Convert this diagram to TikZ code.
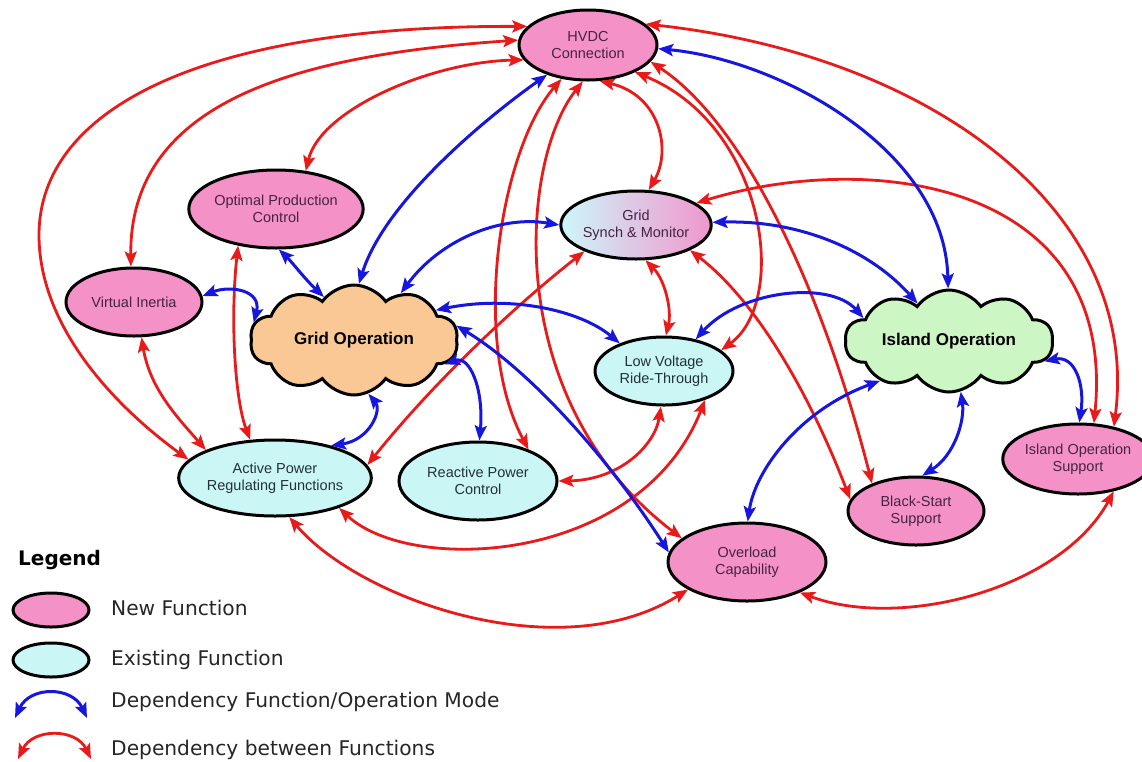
\documentclass[tikz,border=0pt]{standalone}
\usepackage{fontspec}
\setmainfont{Liberation Sans}
\newfontfamily\legfont{DejaVu Sans}
\usetikzlibrary{shapes.geometric,shapes.symbols,arrows.meta}
\definecolor{pinkc}{RGB}{244,146,200}
\definecolor{cyanc}{RGB}{202,246,246}
\definecolor{peachc}{RGB}{250,200,148}
\definecolor{greenc}{RGB}{204,246,196}
\definecolor{redc}{RGB}{232,26,26}
\definecolor{bluec}{RGB}{22,22,222}
\definecolor{gsmleft}{RGB}{205,246,250}
\definecolor{gsmright}{RGB}{240,150,205}
\definecolor{pinktext}{RGB}{70,35,65}
\definecolor{cyantext}{RGB}{35,50,55}
\begin{document}
\begin{tikzpicture}[x=1pt,y=-1pt,
  fn/.style={ellipse, draw=black, line width=3pt, inner sep=0pt, align=center, font=\fontsize{14.5}{17}\selectfont},
  newfn/.style={fn, fill=pinkc, text=pinktext},
  oldfn/.style={fn, fill=cyanc, text=cyantext},
  opmode/.style={cloud, cloud puffs=10, cloud puff arc=110, cloud ignores aspect, draw=black, line width=3pt, inner sep=0pt, font=\fontsize{17}{20}\selectfont\bfseries},
  rdep/.style={draw=redc, line width=2.8pt, >={Stealth[length=15pt,width=12pt,inset=3pt]}, <->},
  bdep/.style={draw=bluec, line width=3pt, >={Stealth[length=15pt,width=12pt,inset=3pt]}, <->},
  legtext/.style={anchor=base west, font=\legfont\fontsize{20.2}{24}\selectfont, text=black!85, inner sep=0pt}
]
\path[use as bounding box] (0,0) rectangle (1142,761);

% nodes
\node[newfn, minimum width=138pt, minimum height=70pt] (hvdc) at (588,45) {HVDC\\Connection};
\node[newfn, minimum width=158pt, minimum height=78pt] (opc) at (276,209) {Optimal Production\\Control};
\node[newfn, minimum width=136pt, minimum height=68pt] (vi) at (134,302) {Virtual Inertia};
\node[fn, left color=gsmleft, right color=gsmright, text=pinktext, minimum width=138pt, minimum height=68pt] (gsm) at (636,225) {Grid\\Synch \& Monitor};
\node[opmode, fill=peachc, minimum width=208pt, minimum height=110pt] (gop) at (354,340) {Grid Operation};
\node[oldfn, minimum width=138pt, minimum height=68pt] (lvrt) at (664,371) {Low Voltage\\Ride-Through};
\node[opmode, fill=greenc, minimum width=208pt, minimum height=102pt] (iop) at (949,341) {Island Operation};
\node[oldfn, minimum width=156pt, minimum height=76pt] (aprf) at (275,478) {Active Power\\Regulating Functions};
\node[oldfn, minimum width=158pt, minimum height=78pt] (rpc) at (478,481) {Reactive Power\\Control};
\node[newfn, minimum width=158pt, minimum height=78pt] (oc) at (747,562) {Overload\\Capability};
\node[newfn, minimum width=136pt, minimum height=68pt] (bss) at (916,511) {Black-Start\\Support};
\node[newfn, minimum width=136pt, minimum height=70pt] (ios) at (1078,459) {Island Operation\\Support};

% red dependencies between functions
\coordinate (r1mid) at (39,235);
\draw[rdep] (hvdc.163) .. controls (200,25) and (39,110) .. (r1mid) .. controls (39,330) and (120,410) .. (aprf.168);
\draw[rdep] (hvdc.176) .. controls (300,55) and (129,100) .. (vi.95);
\draw[rdep] (hvdc.193) .. controls (430,62) and (320,110) .. (opc.52);
\draw[rdep] (vi.282) .. controls (150,390) and (180,420) .. (aprf.158);
\draw[rdep] (opc.224) .. controls (230,320) and (235,400) .. (aprf.123);
\draw[rdep] (gsm.207) .. controls (500,318) and (425,393) .. (aprf.8);
\draw[rdep] (aprf.-25) .. controls (410,575) and (640,565) .. (lvrt.-35);
\draw[rdep] (aprf.290) .. controls (360,600) and (560,670) .. (oc.205);
\draw[rdep] (hvdc.232) .. controls (500,150) and (470,340) .. (rpc.32);
\draw[rdep] (hvdc.262) .. controls (520,160) and (500,400) .. (oc.160);
\draw[rdep] (hvdc.288) .. controls (660,95) and (672,150) .. (gsm.70);
\draw[rdep] (hvdc.330) .. controls (765,125) and (790,300) .. (lvrt.20);
\draw[rdep] (hvdc.345) .. controls (740,120) and (820,280) .. (bss.148);
\draw[rdep] (gsm.285) .. controls (665,280) and (672,310) .. (lvrt.87);
\draw[rdep] (gsm.335) .. controls (755,300) and (808,390) .. (bss.170);
\draw[rdep] (rpc.0) .. controls (620,480) and (655,445) .. (lvrt.265);
\draw[rdep] (hvdc.20) .. controls (930,55) and (1142,210) .. (ios.42);
\draw[rdep] (gsm.20) .. controls (870,150) and (1118,180) .. (ios.66);
\draw[rdep] (oc.330) .. controls (900,630) and (1060,590) .. (ios.318);

% blue dependencies function / operation mode
\draw[bdep] (hvdc.216) .. controls (490,115) and (385,200) .. (gop.85);
\draw[bdep] (gsm.180) .. controls (500,215) and (440,240) .. (gop.45);
\draw[bdep] (opc.274) .. controls (292,262) and (304,278) .. (gop.125);
\draw[bdep] (vi.5) .. controls (230,285) and (262,290) .. (gop.170);
\draw[bdep] (gop.285) .. controls (382,410) and (370,440) .. (aprf.30);
\draw[bdep] (gop.-15) .. controls (470,355) and (484,390) .. (rpc.88);
\draw[bdep] (gop.8) .. controls (530,370) and (610,460) .. (oc.173);
\draw[bdep] (gop.20) .. controls (510,295) and (580,310) .. (lvrt.148);
\draw[bdep] (hvdc.-3) .. controls (780,60) and (945,150) .. (iop.91);
\draw[bdep] (gsm.2) .. controls (800,220) and (870,250) .. (iop.130);
\draw[bdep] (lvrt.45) .. controls (740,290) and (830,280) .. (iop.165);
\draw[bdep] (iop.210) .. controls (800,410) and (755,470) .. (oc.89);
\draw[bdep] (iop.283) .. controls (965,420) and (955,455) .. (bss.80);
\draw[bdep] (iop.-12) .. controls (1075,355) and (1085,385) .. (ios.88);

% legend
\node[anchor=base west, inner sep=0pt, font=\legfont\bfseries\fontsize{20}{24}\selectfont] (legtitle) at (18,565) {Legend};
\node[fn, fill=pinkc, minimum width=76pt, minimum height=34pt] (lnew) at (51,610) {};
\node[legtext] (lnewt) at (111,615) {New Function};
\node[fn, fill=cyanc, minimum width=76pt, minimum height=34pt] (lold) at (51,660) {};
\node[legtext] (loldt) at (111,665) {Existing Function};
\coordinate (lb1) at (15,718);
\coordinate (lb2) at (87,718);
\draw[bdep] (lb1) .. controls (30,686) and (72,686) .. (lb2);
\node[legtext] (lbt) at (111,707) {Dependency Function/Operation Mode};
\coordinate (lr1) at (18,759);
\coordinate (lr2) at (91,759);
\draw[rdep] (lr1) .. controls (33,728) and (76,728) .. (lr2);
\node[legtext] (lrt) at (111,755) {Dependency between Functions};
\end{tikzpicture}
\end{document}
